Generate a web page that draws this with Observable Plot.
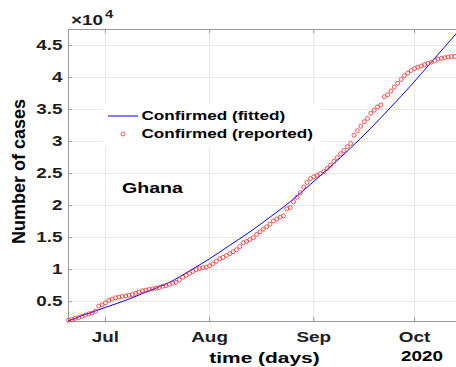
<!DOCTYPE html>
<html>
<head>
<meta charset="utf-8">
<script src="https://cdn.jsdelivr.net/npm/d3@7"></script>
<script src="https://cdn.jsdelivr.net/npm/@observablehq/plot@0.6"></script>
<style>
  html, body { margin: 0; padding: 0; background: #fff; }
  #chart { position: relative; width: 456px; height: 367px; overflow: hidden; font-family: "Liberation Sans", Arial, sans-serif; }
  #chart svg { display: block; }
  #legend { position: absolute; left: 103px; top: 104px; width: 218px; height: 42px; background: #fff; }
  #exponent { position: absolute; left: 0; top: 0; pointer-events: none; }
</style>
</head>
<body>
<div id="chart"></div>
<script>
// Reported confirmed cases in Ghana, one value per day from 20 June 2020
const reportedStart = Date.UTC(2020, 5, 20);
const reportedCases = [
  2100, 2200, 2400, 2500, 2700, 2900, 3100, 3200, 3500, 4300,
  4500, 4800, 5200, 5400, 5600, 5700, 5800, 5900, 6000, 6100,
  6300, 6500, 6700, 6800, 6900, 7000, 7100, 7200, 7400, 7500,
  7700, 7900, 8000, 8400, 8800, 9100, 9400, 9700, 10000, 10200,
  10300, 10400, 10600, 10900, 11300, 11700, 11900, 12200, 12500, 12800,
  13100, 13600, 14200, 14400, 14700, 15000, 15500, 15900, 16300, 16700,
  17100, 17600, 17900, 18200, 18400, 19500, 19700, 20600, 21300, 22000,
  22900, 23600, 24200, 24500, 24700, 25000, 25300, 25800, 26300, 26900,
  27500, 28100, 28600, 29200, 29700, 31000, 31700, 32400, 33100, 33600,
  34400, 34900, 35400, 35700, 37000, 37300, 37900, 38500, 39100, 39700,
  40300, 40700, 41100, 41400, 41600, 41800, 42000, 42200, 42400, 42600,
  42900, 43000, 43100, 43200, 43300, 43300
];

// Fitted model curve, sampled at day offsets from the same start date
const fittedDays  = [0, 5, 11, 18, 24, 30, 36, 42, 48, 54, 60, 66, 72, 78, 84, 90, 96, 102, 108, 115.5];
const fittedCases = [2000, 3000, 4100, 5400, 6700, 8000, 9800, 11700, 13800, 15900, 18200, 20600, 23300, 26100, 29000, 32100, 35400, 38800, 42400, 46900];

// Axis settings
const dayCount = 115.5;
const caseDomain = [1900, 47500];
const monthTicks = [Date.UTC(2020, 6, 1), Date.UTC(2020, 7, 1), Date.UTC(2020, 8, 1), Date.UTC(2020, 9, 1)];
const caseTicks = [5000, 10000, 15000, 20000, 25000, 30000, 35000, 40000, 45000];
const yearLabel = "2020";
const countryLabel = "Ghana";
const xLabel = "time (days)";
const yLabel = "Number of cases";
const exponentBase = "×10";
const exponentPower = "4";
const seriesNames = ["Confirmed (fitted)", "Confirmed (reported)"];

const DAY = 864e5;
const toDate = (d) => new Date(reportedStart + d * DAY);
const reported = reportedCases.map((c, i) => ({date: toDate(i), cases: c}));
const fitted = fittedDays.map((d, i) => ({date: toDate(d), cases: fittedCases[i]}));
const xTicks = monthTicks.map((t) => new Date(t));

const axisColor = "#9a9a9a";
const gridColor = "#e6e6e6";
const textColor = "#1e1e1e";
const font = "Liberation Sans, Arial, sans-serif";

const chart = Plot.plot({
  width: 456,
  height: 367,
  marginLeft: 68,
  marginRight: 0,
  marginTop: 29,
  marginBottom: 46,
  style: {fontFamily: font, fontSize: "14px", color: textColor, background: "#fff", overflow: "visible"},
  x: {type: "utc", domain: [toDate(0), toDate(dayCount)]},
  y: {type: "linear", domain: caseDomain},
  marks: [
    Plot.gridX(xTicks, {stroke: gridColor, strokeOpacity: 1}),
    Plot.gridY(caseTicks, {stroke: gridColor, strokeOpacity: 1}),
    Plot.ruleX([toDate(0)], {stroke: axisColor}),
    Plot.ruleY([caseDomain[0], caseDomain[1]], {stroke: axisColor}),
    // short inward ticks on the box edges
    Plot.tickX(xTicks, {x: (d) => d, insetTop: 288, stroke: axisColor}),
    Plot.tickX(xTicks, {x: (d) => d, insetBottom: 288, stroke: axisColor}),
    Plot.tickY(caseTicks, {y: (d) => d, insetRight: 384, stroke: axisColor}),
    Plot.axisX(xTicks, {tickSize: 0, tickPadding: 11, tickFormat: d3.utcFormat("%b"), label: null, fontSize: 14, fontWeight: "bold", fill: textColor}),
    Plot.axisY(caseTicks, {tickSize: 0, tickPadding: 6, tickFormat: (d) => String(d / 1e4), label: null, fontSize: 14, fontWeight: "bold", fill: textColor}),
    Plot.line(fitted, {x: "date", y: "cases", stroke: "#0000ff", strokeWidth: 1, curve: "monotone-x"}),
    Plot.dot(reported, {x: "date", y: "cases", r: 2, stroke: "#ff2020", strokeWidth: 0.75, fill: "none"}),
    Plot.text([countryLabel], {frameAnchor: "top-left", dx: 84, dy: 159, text: (d) => d, fontSize: 14.5, fontWeight: "bold", fill: "#000", textAnchor: "middle", lineAnchor: "middle"}),
    Plot.text([xLabel], {frameAnchor: "bottom", dx: 2, dy: 37, text: (d) => d, fontSize: 15.5, fontWeight: "bold", fill: "#000", lineAnchor: "middle"}),
    Plot.text([yearLabel], {x: () => xTicks[3], frameAnchor: "bottom", dx: 7.5, dy: 35.5, text: (d) => d, fontSize: 14, fontWeight: "bold", fill: "#000", lineAnchor: "middle"}),
    Plot.text([yLabel], {frameAnchor: "left", dx: -49, dy: -4, rotate: -90, text: (d) => d, fontSize: 18, fontWeight: "bold", fill: "#000", textAnchor: "middle", lineAnchor: "middle"})
  ]
});

// The typeface is drawn somewhat wide: stretch the upright labels horizontally around their anchors.
const SX = 1.35;
function widen(root) {
  root.querySelectorAll("text").forEach((t) => {
    const tr = t.getAttribute("transform") || "";
    if (/rotate\(/.test(tr)) return;
    t.setAttribute("transform", tr + ` scale(${SX},1)`);
    const x = t.getAttribute("x");
    if (x != null && /^-?[\d.]+$/.test(x)) t.setAttribute("x", +x / SX);
  });
}
widen(chart);

const host = document.getElementById("chart");
host.appendChild(chart);

const ns = "http://www.w3.org/2000/svg";
function el(name, attrs, text) {
  const e = document.createElementNS(ns, name);
  Object.entries(attrs).forEach(([k, v]) => e.setAttribute(k, v));
  if (text != null) e.textContent = text;
  return e;
}

// Scale multiplier above the y axis, with the power as a raised tspan
const exp = el("svg", {id: "exponent", width: 200, height: 30});
const expText = el("text", {transform: `translate(71,25) scale(${SX},1)`, "font-family": font, "font-size": 14, "font-weight": "bold", fill: textColor}, exponentBase);
expText.appendChild(el("tspan", {dx: 1.5, dy: -6.6, "font-size": 11}, exponentPower));
exp.appendChild(expText);
host.appendChild(exp);

// Legend box drawn over the plot area
const legend = document.createElement("div");
legend.id = "legend";
const lsvg = el("svg", {width: 218, height: 42});
lsvg.appendChild(el("line", {x1: 5, x2: 35, y1: 12, y2: 12, stroke: "#0000ff", "stroke-width": 1}));
lsvg.appendChild(el("circle", {cx: 20, cy: 30, r: 2, fill: "none", stroke: "#ff2020", "stroke-width": 0.75}));
seriesNames.forEach((name, i) => {
  lsvg.appendChild(el("text", {
    transform: `translate(38.5,${12 + 18 * i}) scale(${SX},1)`,
    dy: "0.35em", "font-family": font, "font-size": 12.7, "font-weight": "bold", fill: "#000"
  }, name));
});
legend.appendChild(lsvg);
host.appendChild(legend);
</script>
</body>
</html>
